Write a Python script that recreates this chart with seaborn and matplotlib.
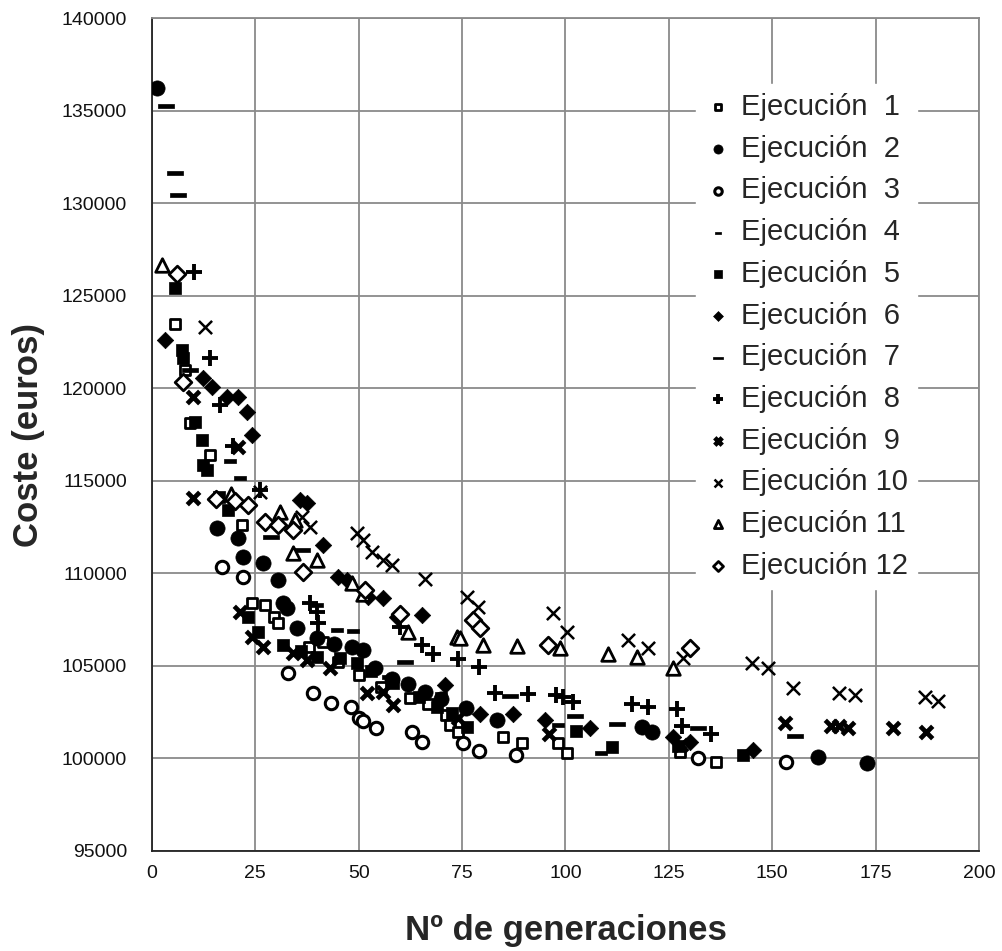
import numpy as np
import matplotlib
matplotlib.use("Agg")
import matplotlib.pyplot as plt
import seaborn as sns

# ---------------- data ----------------
s1_x = [5.6, 8.0, 9.2, 14.0, 21.7, 24.1, 27.3, 29.5, 30.5, 38.0, 41.3, 45.0, 50.0, 55.3, 62.4,
        66.8, 71.2, 72.0, 74.0, 84.9, 89.4, 98.2, 100.3, 127.7, 136.5]
s1_y = [123450, 121000, 118100, 116400, 112600, 108370, 108300, 107650, 107300, 106000, 106300,
        105200, 104500, 103870, 103290, 102940, 102350, 101800, 101430, 101160, 100840, 100820,
        100300, 100350, 99810]

s2_x = [1.1, 15.6, 20.8, 22.0, 26.8, 30.5, 31.7, 32.6, 35.0, 39.8, 44.0, 48.3, 51.0, 54.0, 58.0,
        62.0, 66.0, 70.0, 76.0, 83.4, 118.5, 121.0, 161.0, 172.9]
s2_y = [136200, 112450, 111900, 110870, 110550, 109650, 108400, 108100, 107050, 106500, 106200,
        106030, 105850, 104900, 104300, 104000, 103600, 103200, 102700, 102070, 101700, 101440,
        100060, 99740]

s3_x = [16.9, 22.0, 32.9, 38.9, 43.3, 48.1, 50.0, 51.0, 54.2, 62.9, 65.3, 75.2, 79.1, 88.0, 132.0, 153.3]
s3_y = [110330, 109790, 104590, 103510, 102970, 102800, 102210, 102000, 101670, 101400, 100860,
        100810, 100380, 100160, 100000, 99830]

s4_x = [18.9, 21.3, 40.0, 44.7, 48.7, 57.0, 70.0, 98.2, 108.7]
s4_y = [116080, 115130, 108300, 106930, 106890, 104400, 103500, 101800, 100270]

s5_x = [5.6, 7.2, 7.5, 10.4, 12.0, 12.3, 13.2, 16.2, 18.4, 23.2, 25.6, 31.7, 36.0, 40.0, 45.5,
        49.6, 53.0, 58.3, 64.6, 68.9, 72.5, 76.2, 102.5, 111.2, 127.2, 142.9]
s5_y = [125390, 122070, 121630, 118190, 117200, 115850, 115580, 114100, 113400, 107640, 106820,
        106120, 105800, 105500, 105420, 105150, 104700, 104050, 103300, 102760, 102440, 101680,
        101460, 100600, 100650, 100180]

s6_x = [3.1, 12.4, 14.4, 18.1, 20.9, 22.9, 24.1, 35.8, 37.4, 41.4, 45.0, 47.1, 52.3, 55.9, 59.2,
        65.2, 70.8, 79.3, 87.4, 95.0, 105.9, 126.0, 130.1, 145.4]
s6_y = [122600, 120530, 120080, 119540, 119540, 118730, 117470, 113960, 113780, 111530, 109810,
        109640, 108730, 108640, 107650, 107740, 103960, 102420, 102420, 102100, 101620, 101170,
        100900, 100450]

s7_x = [3.4, 5.6, 6.4, 9.2, 28.9, 36.2, 61.2, 86.6, 102.3, 112.4, 132.1, 155.5]
s7_y = [135250, 131610, 130440, 120990, 111980, 111260, 105220, 103370, 102290, 101840, 101620, 101220]

s8_x = [10.2, 14.0, 16.4, 19.5, 26.1, 38.2, 39.8, 40.2, 60.0, 65.2, 68.0, 74.1, 79.1, 82.9, 91.0,
        97.8, 99.5, 101.9, 116.0, 120.0, 126.9, 128.1, 135.3]
s8_y = [126270, 121610, 119100, 116900, 114500, 108400, 107920, 107290, 107110, 106120, 105620,
        105350, 104920, 103540, 103460, 103420, 103330, 103060, 102930, 102790, 102650, 101740, 101310]

s9_x = [10.0, 10.0, 20.8, 21.3, 24.1, 26.9, 34.2, 37.4, 43.0, 51.9, 55.9, 58.3, 74.0, 96.0, 128.0,
        153.0, 164.3, 166.2, 168.4, 179.2, 187.1]
s9_y = [119540, 114070, 116840, 107920, 106570, 106030, 105690, 105310, 104860, 103510, 103580,
        102880, 102200, 101300, 100700, 101910, 101740, 101740, 101670, 101620, 101440]

s10_x = [12.8, 26.1, 36.2, 38.2, 49.5, 51.1, 53.1, 55.9, 58.0, 66.0, 76.1, 78.9, 97.0, 100.3, 115.2,
         120.0, 128.5, 145.0, 149.0, 155.0, 166.2, 170.0, 186.9, 190.1]
s10_y = [123310, 114410, 113060, 112520, 112160, 111800, 111160, 110720, 110440, 109720, 108730,
         108190, 107830, 106840, 106390, 105980, 105400, 105170, 104890, 103780, 103540, 103420,
         103330, 103110]

s11_x = [2.3, 19.0, 30.9, 34.6, 34.2, 39.8, 48.3, 51.1, 62.0, 73.7, 74.5, 80.1, 88.2, 98.6, 110.3, 117.2, 126.0]
s11_y = [126660, 114300, 113330, 112880, 111080, 110720, 109460, 108910, 106840, 106570, 106500,
         106120, 106060, 105990, 105640, 105490, 104860]

s12_x = [6.0, 7.6, 15.5, 20.0, 23.3, 27.3, 30.5, 34.2, 36.6, 51.5, 60.0, 77.7, 79.3, 95.8, 130.1]
s12_y = [126170, 120350, 114000, 113900, 113690, 112790, 112610, 112340, 110080, 109090, 107800,
         107470, 107020, 106120, 105990]

run_numbers = list(range(1, 13))
x_ticks = list(range(0, 201, 25))
y_ticks = list(range(95000, 140001, 5000))
x_label = "Nº de generaciones"
y_label = "Coste (euros)"

# ---------------- styling ----------------
sns.set_theme(style="white")
plt.rcParams["font.family"] = ["Liberation Sans", "DejaVu Sans"]

small_dash = [(-1, -0.33), (1, -0.33), (1, 0.33), (-1, 0.33), (-1, -0.33)]
long_dash = [(-1, -0.32), (1, -0.32), (1, 0.32), (-1, 0.32), (-1, -0.32)]

styles = [
    dict(marker="s", s=62, facecolor="white", edgecolor="black", linewidth=2.0),
    dict(marker="o", s=120, edgecolor="black", linewidth=0.5),
    dict(marker="o", s=80, facecolor="white", edgecolor="black", linewidth=2.2),
    dict(marker=small_dash, s=70, edgecolor="black", linewidth=0.5),
    dict(marker="s", s=85, edgecolor="black", linewidth=0.5),
    dict(marker="D", s=70, edgecolor="black", linewidth=0.5),
    dict(marker=long_dash, s=120, edgecolor="black", linewidth=0.5),
    dict(marker="+", s=120, linewidth=2.8),
    dict(marker="x", s=80, linewidth=3.4),
    dict(marker="x", s=90, linewidth=1.8),
    dict(marker="^", s=95, facecolor="white", edgecolor="black", linewidth=2.0),
    dict(marker="D", s=72, facecolor="white", edgecolor="black", linewidth=2.0),
]

series_x = [s1_x, s2_x, s3_x, s4_x, s5_x, s6_x, s7_x, s8_x, s9_x, s10_x, s11_x, s12_x]
series_y = [s1_y, s2_y, s3_y, s4_y, s5_y, s6_y, s7_y, s8_y, s9_y, s10_y, s11_y, s12_y]

fig = plt.figure(figsize=(10.02, 9.51), dpi=100)
ax = fig.add_axes([0.1517, 0.1052, 0.8253, 0.8758])

for n, xs, ys, st in zip(run_numbers, series_x, series_y, styles):
    lab = f"Ejecución  {n}" if n < 10 else f"Ejecución {n}"
    sns.scatterplot(x=xs, y=ys, color="black", ax=ax, label=lab, zorder=3, **st)

ax.set_xlim(0, 200)
ax.set_ylim(95000, 140000)
ax.set_xticks(x_ticks)
ax.set_yticks(y_ticks)
ax.set_xticklabels([str(t) for t in x_ticks])
ax.set_yticklabels([str(t) for t in y_ticks])
ax.grid(True, color="#8a8a8a", linewidth=1.3, zorder=0)
ax.set_axisbelow(True)
for side in ["top", "right"]:
    ax.spines[side].set_color("#8a8a8a")
    ax.spines[side].set_linewidth(1.3)
for side in ["left", "bottom"]:
    ax.spines[side].set_color("#222222")
    ax.spines[side].set_linewidth(1.3)
ax.tick_params(axis="both", length=0, labelsize=14, colors="#111111")
ax.tick_params(axis="y", pad=18)
ax.tick_params(axis="x", pad=10)

ax.set_xlabel(x_label, fontsize=25, fontweight="bold", labelpad=23)
ax.set_ylabel(y_label, fontsize=25, fontweight="bold", labelpad=12)

leg = ax.legend(loc="upper left", bbox_to_anchor=(0.64, 0.938), fontsize=21,
                markerscale=0.6, labelspacing=0.47, handlelength=0.9, handletextpad=0.35,
                borderpad=0.3, frameon=True, framealpha=1.0, fancybox=False)
leg.get_frame().set_facecolor("white")
leg.get_frame().set_edgecolor("white")
leg.set_zorder(10)

fig.savefig("out.png", dpi=100)
